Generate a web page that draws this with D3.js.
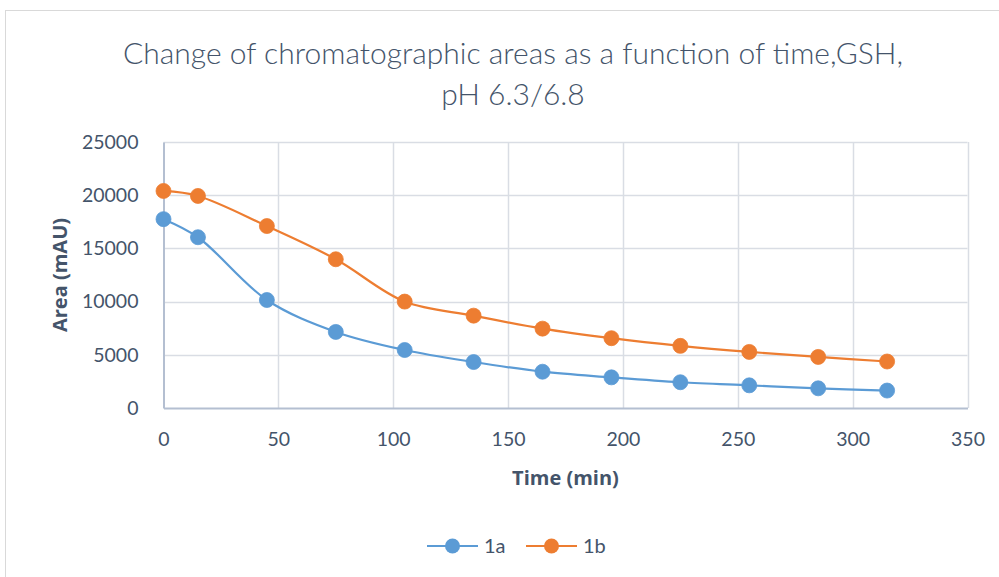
<!DOCTYPE html>
<html>
<head>
<meta charset="utf-8">
<script src="https://cdn.jsdelivr.net/npm/d3@7"></script>
<style>
  html, body { margin: 0; padding: 0; background: #fff; }
  svg { display: block; font-family: Lato, "Open Sans", sans-serif; }
</style>
</head>
<body>
<svg id="chart" width="999" height="577"></svg>
<script>
// Sampling times (min)
const times = [0, 15, 45, 75, 105, 135, 165, 195, 225, 255, 285, 315];
// Chromatographic area (mAU) per series
const series1a = [17750, 16050, 10150, 7150, 5450, 4320, 3410, 2880, 2420, 2130, 1850, 1640];
const series1b = [20400, 19930, 17100, 13980, 10000, 8680, 7460, 6560, 5840, 5270, 4800, 4370];
const seriesNames = ["1a", "1b"];
const seriesColors = ["#5b9bd5", "#ed7d31"];
const xTicks = [0, 50, 100, 150, 200, 250, 300, 350];
const yTicks = [0, 5000, 10000, 15000, 20000, 25000];
const titleLines = ["Change of chromatographic areas as a function of time,GSH,", "pH 6.3/6.8"];

const svg = d3.select("#chart");
const textColor = "#44546a";
const labelFont = "Lato, 'Open Sans', sans-serif";
const boldFont = "'Open Sans', Lato, sans-serif";

// chart frame
svg.append("rect")
  .attr("x", 5.5).attr("y", 10.5)
  .attr("width", 1000).attr("height", 600)
  .attr("fill", "#fff").attr("stroke", "#d9d9d9").attr("stroke-width", 1);

const plot = { left: 163.5, right: 967.5, top: 142, bottom: 408 };

const x = d3.scaleLinear().domain([0, 350]).range([plot.left, plot.right]);
const y = d3.scaleLinear().domain([0, 25000]).range([plot.bottom, plot.top]);

// grid
const grid = svg.append("g");
grid.selectAll("line.h").data(yTicks.slice(1)).join("line")
  .attr("x1", plot.left).attr("x2", plot.right)
  .attr("y1", d => Math.round(y(d)) + 0.5).attr("y2", d => Math.round(y(d)) + 0.5)
  .attr("stroke", "#d9dde4").attr("stroke-width", 1.5);
grid.selectAll("line.v").data(xTicks.slice(1)).join("line")
  .attr("y1", plot.top).attr("y2", plot.bottom)
  .attr("x1", d => Math.round(x(d)) + 0.5).attr("x2", d => Math.round(x(d)) + 0.5)
  .attr("stroke", "#d9dde4").attr("stroke-width", 1.5);

// axes
const xAxis = d3.axisBottom(x).tickValues(xTicks).tickSize(0).tickPadding(24).tickFormat(d3.format("d"));
const yAxis = d3.axisLeft(y).tickValues(yTicks).tickSize(0).tickPadding(25).tickFormat(d3.format("d"));

const gx = svg.append("g").attr("transform", `translate(0,${plot.bottom})`).call(xAxis);
const gy = svg.append("g").attr("transform", `translate(${plot.left},0)`).call(yAxis);
[gx, gy].forEach(g => {
  g.select(".domain").attr("stroke", "#b4bfd1").attr("stroke-width", 2);
  g.selectAll("text").attr("fill", textColor).style("font-size", "19.5px")
    .style("font-family", labelFont);
});

// axis titles
svg.append("text")
  .attr("x", x(175)).attr("y", 485)
  .attr("text-anchor", "middle")
  .attr("fill", textColor).style("font-size", "20px").style("font-weight", "bold")
  .style("font-family", boldFont)
  .text("Time (min)");
svg.append("text")
  .attr("transform", `translate(67,${(plot.top + plot.bottom) / 2}) rotate(-90)`)
  .attr("text-anchor", "middle")
  .attr("fill", textColor).style("font-size", "20px").style("font-weight", "bold")
  .style("font-family", boldFont)
  .text("Area (mAU)");

// title
svg.append("g").selectAll("text").data(titleLines).join("text")
  .attr("x", 513).attr("y", (d, i) => 64 + i * 41)
  .attr("text-anchor", "middle")
  .attr("fill", textColor).style("font-size", "30px").style("font-weight", 300)
  .style("font-family", labelFont)
  .text(d => d);

// series
const data = [series1a, series1b].map((vals, si) => ({
  name: seriesNames[si],
  color: seriesColors[si],
  points: times.map((t, i) => ({ t, v: vals[i] }))
}));

const line = d3.line().x(d => x(d.t)).y(d => y(d.v)).curve(d3.curveCatmullRom.alpha(0.5));

const sg = svg.append("g").selectAll("g").data(data).join("g");
sg.append("path")
  .attr("d", d => line(d.points))
  .attr("fill", "none").attr("stroke", d => d.color).attr("stroke-width", 2.2);
sg.each(function (d) {
  d3.select(this).selectAll("circle").data(d.points).join("circle")
    .attr("cx", p => x(p.t)).attr("cy", p => y(p.v)).attr("r", 7.5)
    .attr("fill", d.color).attr("stroke", d.color).attr("stroke-width", 0.8);
});

// legend
const legend = svg.append("g").attr("transform", "translate(427,546)");
const li = legend.selectAll("g").data(data).join("g")
  .attr("transform", (d, i) => `translate(${i * 99},0)`);
li.append("line").attr("x1", 0).attr("x2", 51).attr("y1", 0).attr("y2", 0)
  .attr("stroke", d => d.color).attr("stroke-width", 2.2);
li.append("circle").attr("cx", 25.5).attr("cy", 0).attr("r", 7.5).attr("fill", d => d.color);
li.append("text").attr("x", 57).attr("y", 7)
  .attr("fill", textColor).style("font-size", "20px")
  .style("font-family", labelFont)
  .text(d => d.name);
</script>
</body>
</html>
